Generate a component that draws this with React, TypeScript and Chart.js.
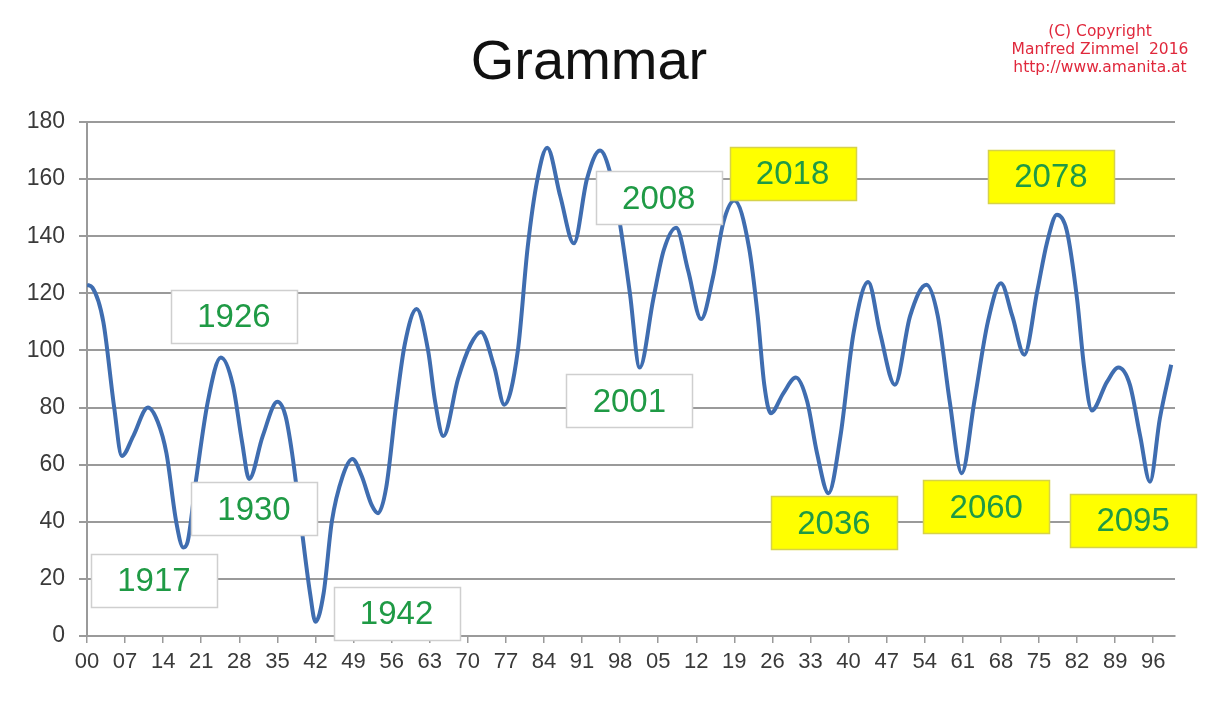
import React, { useEffect, useRef } from "react";
import { Chart, registerables } from "chart.js";

Chart.register(...registerables);

// Years (x) and values (y)
const years: number[] = [
  1900, 1901, 1903, 1905, 1906.4, 1908.5, 1911.2, 1913, 1914.6, 1916.4, 1917.7, 1918.5,
  1920, 1922.2, 1924.6, 1926.8, 1928.5, 1929.8, 1932.3, 1935, 1936.5, 1937.7, 1939.3,
  1941, 1942, 1943.5, 1945, 1947, 1948.8, 1950.5, 1952.3, 1953.5, 1955, 1956.9, 1958.4,
  1960.6, 1962.7, 1964, 1965.5, 1968.2, 1970.5, 1972.4, 1974.9, 1976.7, 1979.2, 1981,
  1982.8, 1984.6, 1987, 1989.5, 1991.9, 1994.3, 1996.2, 1998, 1999.8, 2001.6, 2004.1,
  2006, 2008.3, 2010.5, 2012.9, 2015, 2017, 2019, 2021.7, 2023.3, 2024.5, 2025.7, 2028,
  2030.3, 2032.4, 2034.2, 2036.3, 2038.5, 2040.9, 2043.6, 2045.8, 2048.5, 2051.3, 2054.3,
  2056.4, 2058.6, 2060.8, 2063.1, 2065.6, 2068, 2070.1, 2072.3, 2074.7, 2076.5, 2078.3,
  2080.1, 2082, 2083.3, 2084.7, 2087.5, 2089.6, 2091.7, 2093.6, 2095.4, 2097.2, 2099.3,
];
const values: number[] = [
  123, 122, 110, 80, 63, 70, 80, 75, 64, 40, 31, 33,
  54, 82, 97.5, 88, 68, 55, 70, 82, 77, 64, 40,
  15, 5, 15, 40, 56, 62, 56, 46, 43, 52, 82, 102,
  114.5, 100, 82, 70, 90, 102, 106.5, 94, 81, 100, 136,
  160, 171, 154, 137.5, 160, 170, 162, 144, 120, 94, 118,
  135, 143, 128, 111, 125, 145, 152.5, 136, 112, 88, 78, 85,
  90.5, 82, 64, 50, 70, 106, 124, 106, 88, 112, 123,
  112, 82, 57, 82, 110, 123.5, 112, 98.5, 121, 138, 147.5,
  142, 118, 94, 79, 89, 94, 88, 70, 54, 76, 95,
];

// X tick years (labelled with two digits)
const xTickYears: number[] = [
  1900, 1907, 1914, 1921, 1928, 1935, 1942, 1949, 1956, 1963, 1970, 1977, 1984, 1991, 1998,
  2005, 2012, 2019, 2026, 2033, 2040, 2047, 2054, 2061, 2068, 2075, 2082, 2089, 2096,
];

// Annotation boxes: label, anchor year, anchor value, highlighted (yellow)
const boxLabels: string[] = ["1926", "1917", "1930", "1942", "2001", "2008", "2018", "2036", "2060", "2078", "2095"];
const boxYears: number[] = [1927, 1912.3, 1930.7, 1956.9, 1999.7, 2005.1, 2029.7, 2037.3, 2065.3, 2077.2, 2092.3];
const boxValues: number[] = [112, 19.6, 44.5, 8, 82.3, 153.4, 162, 39.6, 45.2, 161, 40.6];
const boxYellow: boolean[] = [false, false, false, false, false, false, true, true, true, true, true];

const titleText = "Grammar";
const copyrightLines: string[] = ["(C) Copyright", "Manfred Zimmel  2016", "http://www.amanita.at"];

const annotationPlugin = {
  id: "boxAnnotations",
  afterDatasetsDraw(chart: any) {
    const ctx = chart.ctx;
    const xs = chart.scales.x;
    const ys = chart.scales.y;
    const w = 126;
    const h = 53;
    ctx.save();
    boxLabels.forEach((label, i) => {
      const cx = xs.getPixelForValue(boxYears[i]);
      const cy = ys.getPixelForValue(boxValues[i]);
      const x0 = Math.round(cx - w / 2) + 0.5;
      const y0 = Math.round(cy - h / 2) + 0.5;
      ctx.fillStyle = boxYellow[i] ? "#ffff00" : "#ffffff";
      ctx.fillRect(x0, y0, w, h);
      ctx.strokeStyle = boxYellow[i] ? "#d6d24a" : "#cfcfcf";
      ctx.lineWidth = 1.5;
      ctx.strokeRect(x0, y0, w, h);
      ctx.fillStyle = "#1f9a45";
      ctx.font = "33px 'Liberation Sans', Arial, sans-serif";
      ctx.textAlign = "center";
      ctx.textBaseline = "middle";
      ctx.fillText(label, cx, cy + 2);
    });
    ctx.restore();
  },
  afterDraw(chart: any) {
    const ctx = chart.ctx;
    ctx.save();
    ctx.fillStyle = "#111111";
    ctx.font = "56px 'Liberation Sans', Arial, sans-serif";
    ctx.textAlign = "center";
    ctx.textBaseline = "alphabetic";
    ctx.fillText(titleText, 589, 79);
    ctx.fillStyle = "#e0283c";
    ctx.font = "15.5px 'DejaVu Sans', sans-serif";
    copyrightLines.forEach((line, i) => {
      ctx.fillText(line, 1100, 36 + i * 18);
    });
    ctx.restore();
  },
};

export default function App() {
  const canvasRef = useRef<HTMLCanvasElement | null>(null);

  useEffect(() => {
    if (!canvasRef.current) return;
    const points = years.map((y, i) => ({ x: y, y: values[i] }));
    const chart = new Chart(canvasRef.current, {
      type: "line",
      data: {
        datasets: [
          {
            data: points,
            borderColor: "#3f6db0",
            borderWidth: 4,
            pointRadius: 0,
            cubicInterpolationMode: "monotone",
            fill: false,
          },
        ],
      },
      options: {
        animation: false,
        responsive: false,
        maintainAspectRatio: false,
        layout: { padding: { top: 122, right: 36, left: 0, bottom: 0 } },
        plugins: { legend: { display: false }, tooltip: { enabled: false }, title: { display: false } },
        scales: {
          x: {
            type: "linear",
            min: 1900,
            max: 2100,
            afterBuildTicks: (scale: any) => {
              scale.ticks = xTickYears.map((v) => ({ value: v }));
            },
            afterFit: (scale: any) => {
              scale.height = 65;
            },
            grid: {
              drawOnChartArea: false,
              drawTicks: true,
              tickLength: 7,
              color: "#9a9a9a",
              lineWidth: 1.5,
            },
            border: { display: true, color: "#9a9a9a", width: 2 },
            ticks: {
              autoSkip: false,
              maxRotation: 0,
              padding: 6,
              color: "#3a3a3a",
              font: { family: "'Liberation Sans', Arial, sans-serif", size: 22 },
              callback: (v: any) => String(Number(v) % 100).padStart(2, "0"),
            },
          },
          y: {
            min: 0,
            max: 180,
            afterFit: (scale: any) => {
              scale.width = 87;
            },
            grid: {
              drawOnChartArea: true,
              drawTicks: true,
              tickLength: 8,
              color: "#9a9a9a",
              lineWidth: 2,
            },
            border: { display: true, color: "#9a9a9a", width: 2 },
            ticks: {
              stepSize: 20,
              padding: 14,
              color: "#3a3a3a",
              font: { family: "'Liberation Sans', Arial, sans-serif", size: 23 },
            },
          },
        },
      },
      plugins: [annotationPlugin],
    } as any);
    return () => chart.destroy();
  }, []);

  return (
    <div style={{ position: "fixed", left: 0, top: 0, width: 1211, height: 701, background: "#ffffff" }}>
      <canvas ref={canvasRef} width={1211} height={701} style={{ display: "block" }} />
    </div>
  );
}
